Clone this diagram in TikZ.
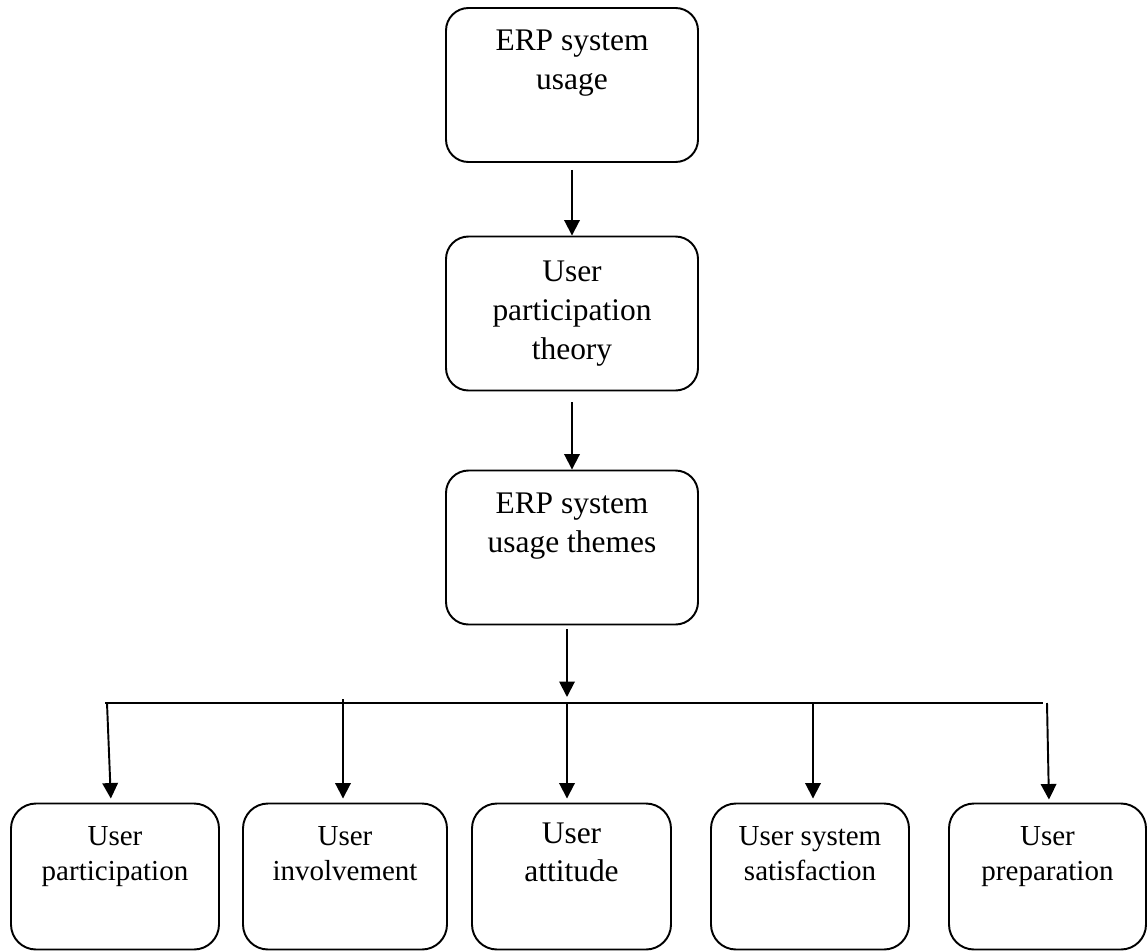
\documentclass[tikz,border=0pt]{standalone}
\usepackage{fontspec}
\setmainfont{Liberation Serif}
\usetikzlibrary{arrows.meta,positioning}

\begin{document}
\begin{tikzpicture}[
  topbox/.style={rectangle,draw=black,line width=1.1pt,rounded corners=0.45cm,align=center,minimum width=5.04cm,minimum height=3.08cm,font=\fontsize{17.9}{22}\selectfont},
  themebox/.style={rectangle,draw=black,line width=1.1pt,rounded corners=0.5cm,align=center,minimum height=2.92cm,font=\fontsize{16.5}{20}\selectfont},
  arr/.style={-{Triangle[length=3.1mm,width=3.1mm]},line width=1.1pt}
]
\useasboundingbox (0,0) rectangle (22.94,-19.02);

\node[topbox] (usage) at (11.44,-1.70) {ERP system\\usage\\\strut};
\node[topbox] (theory) at (11.44,-6.27) {User\\participation\\theory};
  \draw[arr,shorten <=0.14cm] (usage) -- (theory);
\node[topbox] (themes) at (11.44,-10.95) {ERP system\\usage themes\\\strut};
  \draw[arr,shorten <=0.22cm] (theory) -- (themes);

\coordinate (busl) at (2.10,-14.06);
\coordinate (busr) at (20.86,-14.06);
\coordinate (bus1) at (2.14,-14.06);
\coordinate (bus2) at (6.86,-13.98);
\coordinate (bus3) at (11.34,-14.06);
\coordinate (bus4) at (16.26,-14.06);
\coordinate (bus5) at (20.94,-14.06);
  \draw[line width=1.1pt] (busl) -- (busr);
  \draw[arr,shorten <=0.08cm,shorten >=0.12cm] ([xshift=-0.1cm]themes.south) -- (bus3);

\node[themebox,minimum width=4.16cm] (part) at (2.30,-17.53) {User\\participation\\\strut};
\node[themebox,minimum width=4.08cm] (invol) at (6.90,-17.53) {User\\involvement\\\strut};
\node[themebox,minimum width=3.98cm,font=\fontsize{17.9}{21.5}\selectfont] (atti) at (11.43,-17.53) {User\\attitude\\\strut};
\node[themebox,minimum width=3.96cm] (satis) at (16.20,-17.53) {User system\\satisfaction\\\strut};
\node[themebox,minimum width=3.94cm] (prep) at (20.95,-17.53) {User\\preparation\\\strut};

  \draw[arr,shorten >=0.08cm] (bus1) -- ([xshift=-0.08cm]part.north);
  \draw[arr,shorten >=0.08cm] (bus2) -- ([xshift=-0.04cm]invol.north);
  \draw[arr,shorten >=0.08cm] (bus3) -- ([xshift=-0.09cm]atti.north);
  \draw[arr,shorten >=0.08cm] (bus4) -- ([xshift=0.06cm]satis.north);
  \draw[arr,shorten >=0.06cm] (bus5) -- ([xshift=0.03cm]prep.north);

\end{tikzpicture}
\end{document}
